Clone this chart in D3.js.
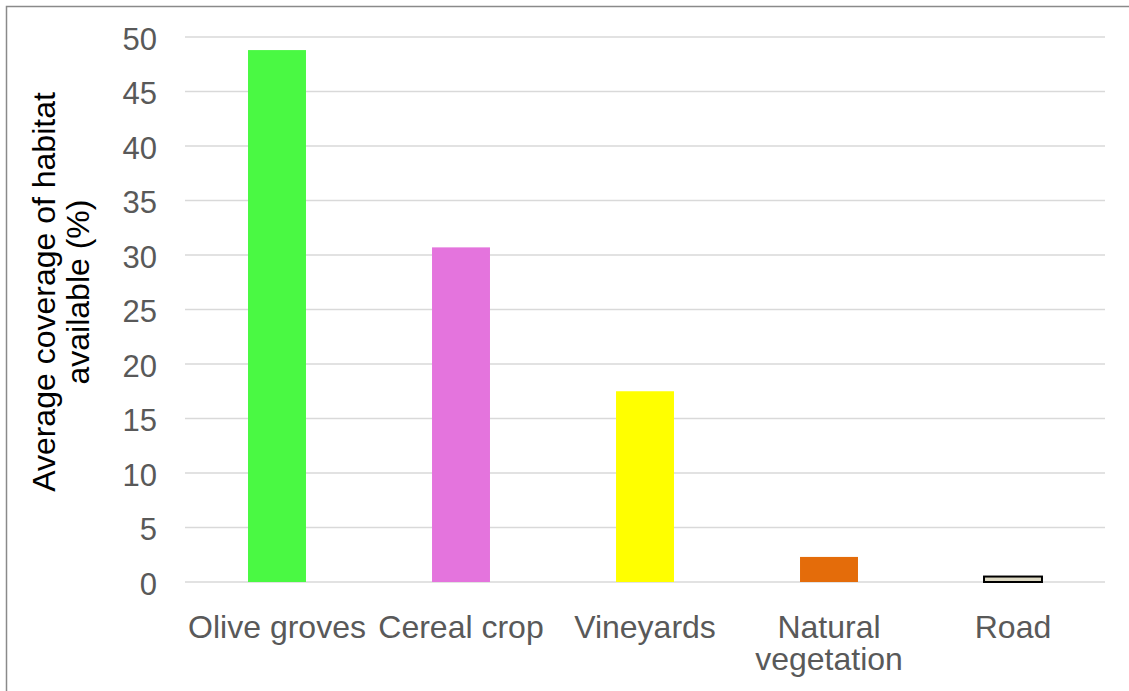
<!DOCTYPE html>
<html><head><meta charset="utf-8">
<script src="https://cdn.jsdelivr.net/npm/d3@7"></script>
<style>html,body{margin:0;padding:0;background:#fff}svg{display:block}</style>
</head><body>
<svg id="chart" width="1129" height="691"></svg>
<script>
const categories = ["Olive groves", "Cereal crop", "Vineyards", "Natural vegetation", "Road"];
const values = [48.8, 30.7, 17.5, 2.3, 0.5];
const barColors = ["#4af943", "#e474dd", "#ffff00", "#e46c0a", "#ddd9c4"];
const yTicks = [0, 5, 10, 15, 20, 25, 30, 35, 40, 45, 50];
const yTitleLines = ["Average coverage of habitat", "available (%)"];

const svg = d3.select("#chart");
const font = "'Liberation Sans', Arial, sans-serif";
const plotLeft = 185, plotRight = 1105, plotTop = 37, plotBottom = 582;

svg.append("rect").attr("width", 1129).attr("height", 691).attr("fill", "#fff");
svg.append("rect").attr("x", 6.5).attr("y", 6.5).attr("width", 1200).attr("height", 800)
  .attr("fill", "none").attr("stroke", "#8a8a8a").attr("stroke-width", 1.5);

const y = d3.scaleLinear().domain([0, 50]).range([plotBottom, plotTop]);
const x = d3.scaleBand().domain(categories).range([plotLeft, plotRight]).paddingInner(0.685).paddingOuter(0.3425);

// gridlines
svg.append("g").selectAll("line").data(yTicks).join("line")
  .attr("x1", plotLeft).attr("x2", plotRight)
  .attr("y1", d => y(d)).attr("y2", d => y(d))
  .attr("stroke", "#d9d9d9").attr("stroke-width", 1.5);

// y tick labels
const yAxis = d3.axisLeft(y).tickValues(yTicks).tickSize(0).tickPadding(0);
const gy = svg.append("g").attr("transform", `translate(${plotLeft - 28},0)`).call(yAxis);
gy.select(".domain").remove();
gy.selectAll("text").attr("font-family", font).attr("font-size", 31).attr("fill", "#595959").attr("dy", "0.39em");

// bars
svg.append("g").selectAll("rect").data(values).join("rect")
  .attr("x", (d, i) => x(categories[i]))
  .attr("width", x.bandwidth())
  .attr("y", d => y(d))
  .attr("height", d => y(0) - y(d))
  .attr("fill", (d, i) => barColors[i])
  .attr("stroke", (d, i) => i === 4 ? "#000" : "none")
  .attr("stroke-width", 2);

// x labels
const xl = svg.append("g");
categories.forEach(c => {
  const words = c === "Natural vegetation" ? ["Natural", "vegetation"] : [c];
  words.forEach((w, j) => {
    xl.append("text").attr("x", x(c) + x.bandwidth() / 2).attr("y", 638 + j * 32)
      .attr("text-anchor", "middle").attr("font-family", font).attr("font-size", 32)
      .attr("fill", "#595959").text(w);
  });
});

// y title
const yt = svg.append("text").attr("transform", "translate(0,292) rotate(-90)")
  .attr("text-anchor", "middle").attr("font-family", font).attr("font-size", 32).attr("fill", "#000");
yTitleLines.forEach((l, i) => {
  yt.append("tspan").attr("x", 0).attr("y", 55 + i * 34).text(l);
});
</script>
</body></html>
